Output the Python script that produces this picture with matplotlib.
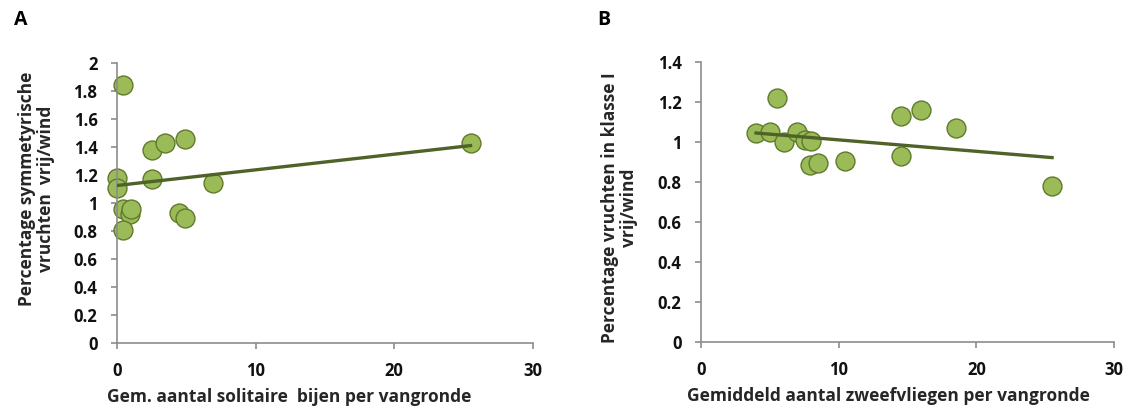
import matplotlib.pyplot as plt

# Paneel A: solitaire bijen
bijen_x = [0.44, 2.5, 3.5, 4.9, 25.5, 0.0, 2.5, 0.0, 6.95, 0.44, 0.95, 1.0, 4.5, 4.9, 0.44]
bijen_y = [1.84, 1.38, 1.43, 1.46, 1.43, 1.18, 1.17, 1.11, 1.14, 0.96, 0.92, 0.96, 0.93, 0.89, 0.81]
trend_a_x = [0.0, 25.5]
trend_a_y = [1.125, 1.41]

# Paneel B: zweefvliegen
zweef_x = [4.0, 5.0, 5.5, 6.0, 6.95, 7.55, 7.97, 7.92, 8.5, 10.46, 14.5, 14.5, 16.0, 18.5, 25.5]
zweef_y = [1.047, 1.05, 1.22, 1.0, 1.05, 1.01, 1.005, 0.885, 0.897, 0.905, 1.13, 0.93, 1.16, 1.07, 0.78]
trend_b_x = [4.0, 25.5]
trend_b_y = [1.045, 0.922]

xticks = [0, 10, 20, 30]
yticks_a = [0, 0.2, 0.4, 0.6, 0.8, 1, 1.2, 1.4, 1.6, 1.8, 2]
yticks_b = [0, 0.2, 0.4, 0.6, 0.8, 1, 1.2, 1.4]

plt.rcParams['font.family'] = ['Open Sans', 'DejaVu Sans']
plt.rcParams['font.weight'] = 'bold'

fill = '#9bbb59'
edge = '#5e7a2a'
lijn = '#4f6228'
as_kleur = '#8c8c8c'
tekst = '#262626'

fig = plt.figure(figsize=(11.31, 4.12), dpi=100)
ax1 = fig.add_axes([0.1034, 0.1675, 0.3678, 0.6796])
ax2 = fig.add_axes([0.6198, 0.1699, 0.3652, 0.6796])


def opmaak(ax, yticks, ymax):
    ax.set_xlim(0, 30)
    ax.set_ylim(0, ymax)
    ax.set_xticks(xticks)
    ax.set_yticks(yticks)
    ax.set_yticklabels([('%g' % v) for v in yticks])
    for s in ['top', 'right']:
        ax.spines[s].set_visible(False)
    for s in ['left', 'bottom']:
        ax.spines[s].set_color(as_kleur)
        ax.spines[s].set_linewidth(1.2)
    ax.tick_params(direction='out', length=4, width=1.2, color=as_kleur,
                   labelsize=12, labelcolor='#111111', pad=10)
    for lab in ax.get_xticklabels() + ax.get_yticklabels():
        lab.set_fontweight('bold')


ax1.plot(trend_a_x, trend_a_y, color=lijn, lw=2.4, zorder=3)
ax1.scatter(bijen_x, bijen_y, s=185, facecolor=fill, edgecolor=edge,
            linewidth=1.0, zorder=2, clip_on=False)
opmaak(ax1, yticks_a, 2)
ax1.set_xlabel('Gem. aantal solitaire  bijen per vangronde', fontsize=12.5,
               color=tekst, fontweight='bold')
ax1.xaxis.set_label_coords(0.414, -0.16)
ax1.set_ylabel('Percentage symmetyrische\nvruchten  vrij/wind', fontsize=12.5,
               color=tekst, fontweight='bold', linespacing=1.05)
ax1.yaxis.set_label_coords(-0.15, 0.55)

ax2.plot(trend_b_x, trend_b_y, color=lijn, lw=2.4, zorder=3)
ax2.scatter(zweef_x, zweef_y, s=185, facecolor=fill, edgecolor=edge,
            linewidth=1.0, zorder=2, clip_on=False)
opmaak(ax2, yticks_b, 1.4)
ax2.set_xlabel('Gemiddeld aantal zweefvliegen per vangronde', fontsize=12.5,
               color=tekst, fontweight='bold')
ax2.xaxis.set_label_coords(0.455, -0.16)
ax2.set_ylabel('Percentage vruchten in klasse I\nvrij/wind', fontsize=12.5,
               color=tekst, fontweight='bold', linespacing=1.05)
ax2.yaxis.set_label_coords(-0.153, 0.48)

fig.text(0.0124, 0.951, 'A', fontsize=14, fontweight='bold', color='black', va='center')
fig.text(0.528, 0.951, 'B', fontsize=14, fontweight='bold', color='black', va='center')

plt.savefig('out.png', dpi=100)
